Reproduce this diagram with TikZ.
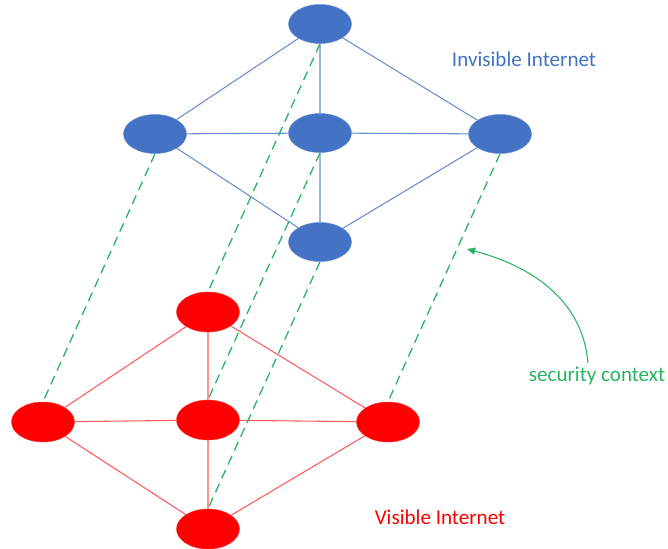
\documentclass[tikz,border=0pt]{standalone}
\usepackage{fontspec}
\setmainfont{Carlito}
\usetikzlibrary{arrows.meta,shapes.geometric}
\definecolor{netblue}{RGB}{68,114,196}
\definecolor{netred}{RGB}{255,0,0}
\definecolor{ctxgreen}{RGB}{40,180,100}
\tikzset{
  bluenode/.style={ellipse, fill=netblue, draw=netblue!80, inner sep=0pt,
    minimum width=1.89cm, minimum height=1.17cm},
  rednode/.style={ellipse, fill=netred, draw=netred!80, inner sep=0pt,
    minimum width=1.89cm, minimum height=1.2cm},
  blueedge/.style={draw=netblue!80, line width=0.9pt},
  rededge/.style={draw=netred!65, line width=0.9pt},
  ctxline/.style={draw=ctxgreen, line width=1.1pt, dash pattern=on 8pt off 5pt},
  bigtext/.style={font=\fontsize{18}{21}\selectfont}
}

\begin{document}
\begin{tikzpicture}[x=0.03cm, y=-0.03cm]

\useasboundingbox (0,0) rectangle (668,548);

% invisible internet
\node[bluenode] (btop) at (320,24) {};
\node[bluenode] (bleft) at (155,134) {};
\node[bluenode] (bmid) at (320,133) {};
\node[bluenode] (bright) at (500,134) {};
\node[bluenode] (bbot) at (320,242) {};

% visible internet
\node[rednode] (rtop) at (208,312) {};
\node[rednode] (rleft) at (43,422) {};
\node[rednode] (rmid) at (208,420) {};
\node[rednode] (rright) at (388,422) {};
\node[rednode] (rbot) at (208,529) {};

\draw[blueedge] (btop) -- (bleft) (btop) -- (bmid) (btop) -- (bright);
\draw[blueedge] (bleft) -- (bmid) (bmid) -- (bright);
\draw[blueedge] (bleft) -- (bbot) (bmid) -- (bbot) (bright) -- (bbot);

\draw[rededge] (rtop) -- (rleft) (rtop) -- (rmid) (rtop) -- (rright);
\draw[rededge] (rleft) -- (rmid) (rmid) -- (rright);
\draw[rededge] (rleft) -- (rbot) (rmid) -- (rbot) (rright) -- (rbot);

\draw[ctxline] (btop.south) -- (rtop.north);
\draw[ctxline] (bleft.south) -- (rleft.north);
\draw[ctxline] (bmid.south) -- (rmid.north);
\draw[ctxline] (bright.south) -- (rright.north);
\draw[ctxline] (bbot.south) -- (rbot.north);

\node[bigtext, text=netblue] (invis) at (524,59) {Invisible Internet};
\node[bigtext, text=netred] (vis) at (440,517) {Visible Internet};
\node[bigtext, text=ctxgreen] (ctx) at (597,376) {security context};

\coordinate (tip) at (467,249);
\draw[ctxgreen, line width=0.9pt, -{Triangle[length=7pt,width=6pt]}]
  ([xshift=-0.27cm]ctx.north) to[out=95, in=-15] (tip);

\end{tikzpicture}
\end{document}
